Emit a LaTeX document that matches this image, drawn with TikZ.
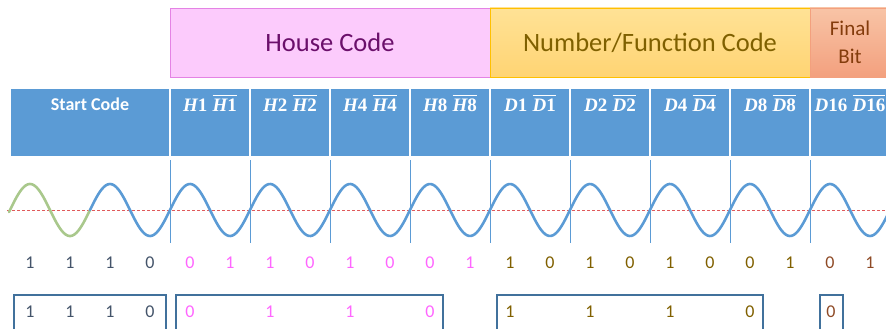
\documentclass[tikz,border=0pt]{standalone}
\usepackage[no-math]{fontspec}
\setmainfont{Carlito}
\newfontfamily\cserif{Liberation Serif}
\newcommand{\cellpart}[2]{{\cserif\bfseries\itshape #1}{\cserif\bfseries #2}}
\newcommand{\celllabel}[2]{\cellpart{#1}{#2}\hspace{0.28em}$\overline{\hbox{\rule{0pt}{0.76em}\cellpart{#1}{#2}}}$}
\definecolor{cellblue}{HTML}{5B9BD5}
\definecolor{wavegreen}{HTML}{A9C88C}
\definecolor{dashred}{HTML}{E05A5A}
\definecolor{pinkfill}{HTML}{FCCBFC}
\definecolor{pinkline}{HTML}{E483E4}
\definecolor{pinktext}{HTML}{6B0F6B}
\definecolor{orgtop}{HTML}{FFE296}
\definecolor{orgbot}{HTML}{FFD473}
\definecolor{orgline}{HTML}{FFC000}
\definecolor{orgtext}{HTML}{7F6000}
\definecolor{saltop}{HTML}{F8C4A6}
\definecolor{salbot}{HTML}{F3A07E}
\definecolor{saltext}{HTML}{843C0C}
\definecolor{bitgray}{HTML}{44546A}
\definecolor{bitpink}{HTML}{FF66FF}
\definecolor{bitolive}{HTML}{806000}
\definecolor{bitbrown}{HTML}{8E4A26}
\definecolor{boxline}{HTML}{41719C}
\tikzset{
  cellbox/.style={fill=cellblue, draw=white, line width=1.5pt, minimum height=69pt, anchor=north west, inner sep=0pt, outer sep=0pt},
  celltext/.style={text=white, font=\fontsize{19}{21}\selectfont, inner sep=0pt, anchor=base},
  topbox/.style={line width=0.9pt, minimum height=69pt, anchor=north west, inner sep=0pt, outer sep=0pt, align=center},
  bit/.style={font=\fontsize{18}{20}\selectfont, inner sep=0pt},
  bitbox/.style={draw=boxline, line width=1.2pt, anchor=north west, inner sep=0pt, outer sep=0pt, minimum height=40pt},
  guide/.style={draw=cellblue, line width=0.7pt},
  wave/.style={line width=2.6pt, line cap=round},
}
\begin{document}
\begin{tikzpicture}[x=1pt,y=-1pt]
\useasboundingbox (0,0) rectangle (886,329);
\clip (0,0) rectangle (886,329);

% top category boxes
\node[topbox, fill=pinkfill, draw=pinkline, minimum width=320pt, text=pinktext, font=\fontsize{26.5}{30}\selectfont] (house) at (170,8) {House Code};
\node[topbox, top color=orgtop, bottom color=orgbot, draw=orgline, minimum width=320pt, text=orgtext, font=\fontsize{26.5}{30}\selectfont] (number) at (490,8) {Number/Function Code};
\node[topbox, top color=saltop, bottom color=salbot, draw=salbot, minimum width=80pt, text=saltext, font=\fontsize{21}{28}\selectfont] (final) at (810,8) {Final\\Bit};

% header cells
\node[cellbox, minimum width=160pt] (start) at (10,88) {};
\node[text=white, font=\fontsize{18}{20}\selectfont\bfseries, inner sep=0pt] (starttxt) at ([yshift=-16pt]start.north) {Start Code};
\foreach \i/\L/\N in {1/H/1, 2/H/2, 3/H/4, 4/H/8, 5/D/1, 6/D/2, 7/D/4, 8/D/8, 9/D/16}{
  \node[cellbox, minimum width=80pt] (c\i) at ({170+80*(\i-1)},88) {};
  \node[celltext] (t\i) at ([yshift=-23pt]c\i.north) {\celllabel{\L}{\N}};
  \draw[guide] ([yshift=-3pt]c\i.south west) -- ++(0,83);
}

% reference line and wave
\draw[dashred, line width=0.9pt, dash pattern=on 3pt off 2pt] (7,210) -- (886,210);
\draw[wave, wavegreen] plot[domain=9:90, samples=60, smooth] (\x, {210-26*sin(4.5*(\x-10))});
\draw[wave, cellblue] plot[domain=90:890, samples=400, smooth] (\x, {210-26*sin(4.5*(\x-10))});

% bit row
\foreach \b [count=\k from 0] in {1,1,1,0}{
  \node[bit, text=bitgray] (s\k) at ({30+40*\k},263) {\b};
}
\foreach \b [count=\k from 0] in {0,1,1,0,1,0,0,1}{
  \node[bit, text=bitpink] (h\k) at ({190+40*\k},263) {\b};
}
\foreach \b [count=\k from 0] in {1,0,1,0,1,0,0,1}{
  \node[bit, text=bitolive] (d\k) at ({510+40*\k},263) {\b};
}
\foreach \b [count=\k from 0] in {0,1}{
  \node[bit, text=bitbrown] (f\k) at ({830+40*\k},263) {\b};
}

% decoded boxes
\node[bitbox, minimum width=152pt] (b1) at (14,295) {};
\node[bitbox, minimum width=267pt] (b2) at (176,295) {};
\node[bitbox, minimum width=266pt] (b3) at (497,295) {};
\node[bitbox, minimum width=23pt] (b4) at (820,295) {};
\foreach \b [count=\k from 0] in {1,1,1,0}{
  \node[bit, text=bitgray] (ba\k) at ({30+40*\k},312) {\b};
}
\foreach \b [count=\k from 0] in {0,1,1,0}{
  \node[bit, text=bitpink] (bb\k) at ({190+80*\k},312) {\b};
}
\foreach \b [count=\k from 0] in {1,1,1,0}{
  \node[bit, text=bitolive] (bc\k) at ({510+80*\k},312) {\b};
}
\node[bit, text=bitbrown] (bd0) at (831,312) {0};
\end{tikzpicture}
\end{document}
